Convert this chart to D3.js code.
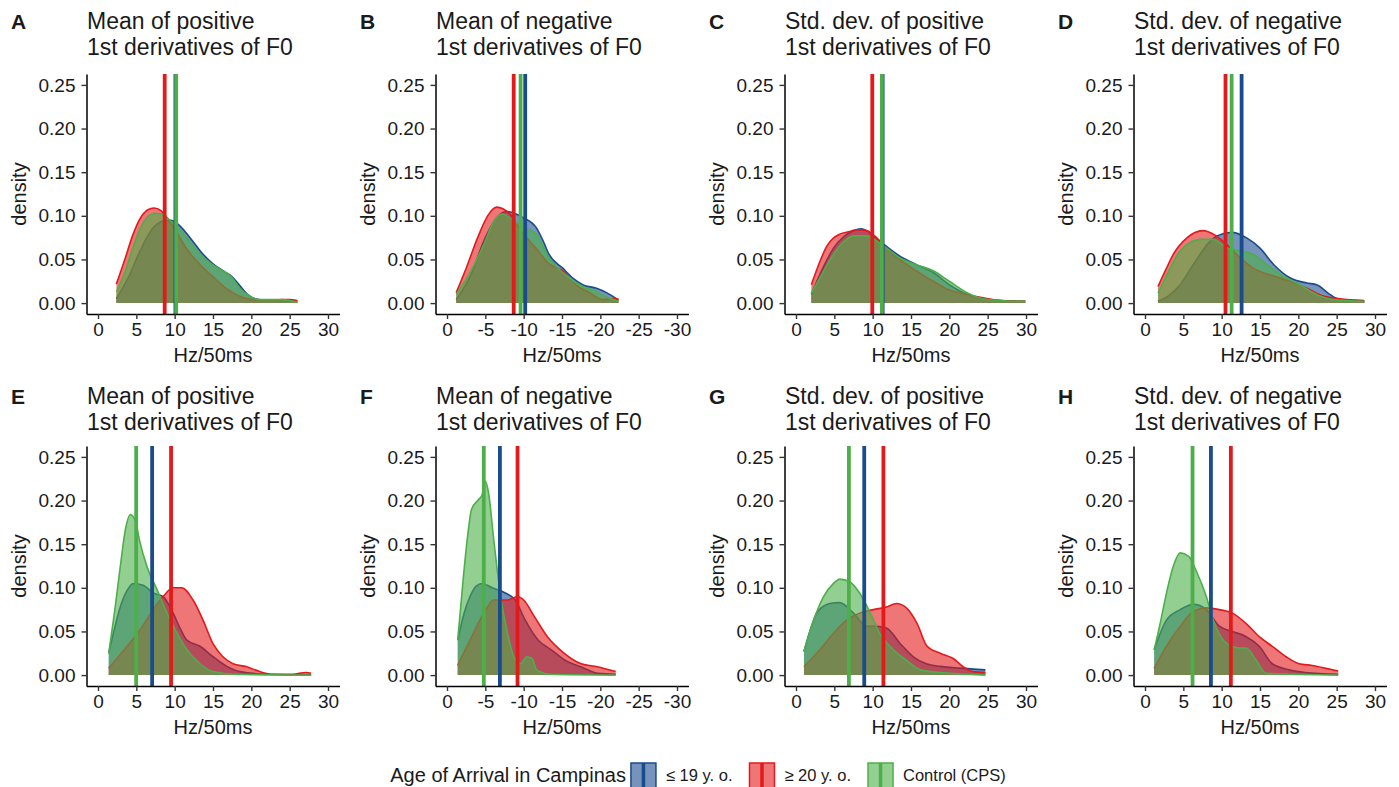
<!DOCTYPE html>
<html>
<head>
<meta charset="utf-8">
<script src="https://cdnjs.cloudflare.com/ajax/libs/d3/7.8.5/d3.min.js"></script>
<style>
  body { margin: 0; background: #fff; }
  text { font-family: "Liberation Sans", Arial, Helvetica, sans-serif; fill: #1a1a1a; }
</style>
</head>
<body>
<div class="canvas"></div>
<script>
// groups and labels
const groups = ["≤ 19 y. o.", "≥ 20 y. o.", "Control (CPS)"];
const legendTitle = "Age of Arrival in Campinas";
const panelLetters = ["A", "B", "C", "D", "E", "F", "G", "H"];
const panelTitles = [
  ["Mean of positive", "1st derivatives of F0"],
  ["Mean of negative", "1st derivatives of F0"],
  ["Std. dev. of positive", "1st derivatives of F0"],
  ["Std. dev. of negative", "1st derivatives of F0"],
  ["Mean of positive", "1st derivatives of F0"],
  ["Mean of negative", "1st derivatives of F0"],
  ["Std. dev. of positive", "1st derivatives of F0"],
  ["Std. dev. of negative", "1st derivatives of F0"]
];
const xLabel = "Hz/50ms";
const yLabel = "density";
const xTicksPos = [0, 5, 10, 15, 20, 25, 30];
const xTicksNeg = [0, -5, -10, -15, -20, -25, -30];
const yTicks = [0, 0.05, 0.1, 0.15, 0.2, 0.25];

// density curves per panel: [<=19, >=20, control], points are [x, density]
const densA = [
  [[2.4,0.005],[4,0.03],[5.5,0.06],[7,0.084],[8.5,0.094],[9.5,0.095],[10.5,0.09],[12,0.075],[13.5,0.058],[15,0.045],[16.5,0.036],[17.5,0.03],[18.5,0.02],[19.5,0.01],[21,0.004],[24,0.003],[26,0.002]],
  [[2.4,0.022],[3.5,0.05],[4.5,0.077],[5.5,0.097],[6.5,0.107],[7.3,0.109],[8.2,0.106],[9,0.098],[10,0.085],[11,0.07],[12,0.057],[13,0.047],[14,0.038],[15,0.03],[16,0.022],[17,0.015],[18,0.01],[19,0.006],[20,0.004],[22,0.003],[24,0.004],[25,0.004],[26,0.003]],
  [[2.4,0.013],[3.5,0.035],[4.5,0.062],[5.5,0.085],[6.5,0.099],[7.5,0.103],[8.5,0.101],[9.5,0.094],[10.5,0.086],[12,0.07],[13.3,0.056],[14.5,0.047],[15.5,0.041],[16.5,0.036],[17.5,0.029],[18.5,0.017],[19.8,0.008],[21,0.004],[24,0.004],[26,0.001]]
];
const densB = [
  [[-1.2,0.004],[-3,0.03],[-5,0.075],[-6.5,0.098],[-7.8,0.105],[-9,0.102],[-9.9,0.098],[-11.6,0.087],[-12.5,0.072],[-13.3,0.056],[-15.1,0.04],[-16.5,0.028],[-17.7,0.021],[-19.5,0.017],[-20.8,0.012],[-22.3,0.004]],
  [[-1.2,0.012],[-2.5,0.04],[-4,0.075],[-5.3,0.1],[-6.5,0.11],[-7.3,0.108],[-8.2,0.102],[-9.9,0.08],[-11.6,0.063],[-13.3,0.045],[-15.1,0.037],[-16.8,0.021],[-18.6,0.012],[-20.3,0.004],[-22,0.005],[-22.4,0.004]],
  [[-1.2,0.01],[-3,0.035],[-4.8,0.067],[-6,0.092],[-7.2,0.102],[-8.5,0.096],[-9.9,0.087],[-11.6,0.079],[-13.3,0.052],[-15.1,0.035],[-17.7,0.019],[-19.5,0.013],[-21,0.006],[-22.4,0.002]]
];
const densC = [
  [[2,0.01],[3.5,0.04],[4.9,0.063],[6.2,0.076],[7.5,0.083],[8.5,0.085],[9.2,0.083],[10.2,0.076],[11.2,0.069],[13.5,0.054],[15.7,0.044],[17.9,0.035],[20,0.021],[22.3,0.01],[24.4,0.005],[27,0.003],[29.9,0.002]],
  [[2,0.021],[3,0.045],[4,0.065],[5.7,0.079],[7,0.082],[7.9,0.084],[9.2,0.083],[10.5,0.075],[11.8,0.063],[13.5,0.05],[15.7,0.037],[17.9,0.025],[20,0.015],[22.3,0.01],[24.4,0.006],[26.6,0.003],[29.9,0.002]],
  [[2,0.0115],[3.5,0.035],[4.9,0.056],[6.2,0.07],[7.5,0.077],[9.2,0.077],[11.2,0.067],[13.5,0.052],[15.7,0.044],[17.9,0.037],[20,0.025],[22.3,0.012],[24.4,0.005],[26.6,0.003],[29.9,0.002]]
];
const densD = [
  [[1.7,0.002],[3,0.008],[4.6,0.021],[6,0.04],[7.2,0.056],[8.3,0.069],[9.4,0.077],[11.3,0.081],[13.2,0.075],[15,0.063],[16.8,0.044],[18.9,0.029],[21.1,0.023],[22.4,0.021],[24.1,0.01],[25.4,0.004],[28.6,0.002]],
  [[1.7,0.019],[2.7,0.038],[3.7,0.056],[5.5,0.075],[6.5,0.081],[7.6,0.083],[8.9,0.079],[10.7,0.067],[12.4,0.052],[14.1,0.04],[16.8,0.031],[18.9,0.025],[21.1,0.017],[23.3,0.008],[25.4,0.005],[28.6,0.003]],
  [[1.7,0.0115],[3,0.035],[4.6,0.06],[6,0.07],[7.2,0.073],[8.9,0.073],[10.7,0.063],[12.4,0.06],[14.1,0.056],[15.9,0.044],[17.6,0.033],[20.2,0.021],[22.8,0.008],[24.5,0.004],[28.6,0.002]]
];
const densE = [
  [[1.4,0.025],[2.2,0.055],[2.9,0.078],[3.8,0.097],[4.6,0.105],[5.9,0.103],[7.2,0.094],[8.5,0.09],[9.8,0.071],[10.8,0.052],[11.6,0.04],[13.3,0.033],[15,0.021],[16.8,0.01],[18.5,0.004],[22,0.001],[27.8,0]],
  [[1.4,0.008],[3.8,0.033],[5.5,0.052],[7.2,0.075],[8.5,0.09],[9.8,0.1],[10.9,0.1],[12.4,0.086],[13.7,0.063],[15,0.036],[16.3,0.021],[17.6,0.013],[19.4,0.0096],[21.1,0.004],[22.8,0.001],[25.4,0.001],[27.1,0.003],[27.8,0.002]],
  [[1.4,0.025],[2.2,0.075],[2.9,0.124],[3.6,0.168],[4.2,0.184],[4.9,0.176],[5.4,0.155],[6.4,0.124],[7.7,0.098],[9,0.071],[10.3,0.048],[11.6,0.029],[13.3,0.013],[15,0.004],[17.6,0.001],[27.8,0]]
];
const densF = [
  [[-1.4,0.04],[-2.2,0.07],[-3,0.09],[-3.8,0.102],[-4.6,0.105],[-5.9,0.1],[-7.6,0.094],[-8.9,0.086],[-10.2,0.063],[-11.9,0.04],[-13.6,0.029],[-15.4,0.017],[-17.6,0.009],[-19.7,0.002],[-22,0.001]],
  [[-1.4,0.011],[-3,0.04],[-4.8,0.071],[-6.1,0.086],[-7.9,0.086],[-9.2,0.09],[-10,0.086],[-11.4,0.067],[-13.1,0.044],[-15.3,0.025],[-17.5,0.013],[-19.6,0.0096],[-22,0.004]],
  [[-1.4,0.04],[-2.1,0.109],[-2.7,0.16],[-3.2,0.19],[-4.1,0.201],[-4.6,0.207],[-5,0.222],[-5.4,0.21],[-6.1,0.155],[-7,0.09],[-7.9,0.048],[-8.7,0.021],[-9.6,0.013],[-10.4,0.021],[-11.1,0.019],[-11.7,0.006],[-13.4,0.001],[-22,0]]
];
const densG = [
  [[1.04,0.027],[1.8,0.05],[2.7,0.071],[3.6,0.079],[4.4,0.082],[5.7,0.083],[7.5,0.071],[9.2,0.056],[10.5,0.056],[11.8,0.054],[13.6,0.036],[15.3,0.021],[17,0.013],[18.8,0.01],[21.4,0.008],[24.7,0.006]],
  [[1.04,0.0096],[3.1,0.029],[4.9,0.048],[6.6,0.063],[8.3,0.071],[10.1,0.075],[11.8,0.078],[13.1,0.082],[14.4,0.077],[15.8,0.059],[17.1,0.033],[18.8,0.025],[20.5,0.019],[21.8,0.0096],[23.1,0.004],[24.7,0.003]],
  [[1.04,0.027],[2.3,0.063],[3.6,0.09],[4.9,0.105],[5.7,0.11],[7,0.107],[8.3,0.094],[9.7,0.071],[10.9,0.048],[12.7,0.029],[14.4,0.017],[16.2,0.006],[18.8,0.003],[22.3,0.001],[24.7,0]]
];
const densH = [
  [[1.2,0.029],[2.8,0.063],[4.6,0.075],[6.3,0.081],[8,0.075],[9.7,0.056],[11.4,0.05],[13.2,0.044],[14.9,0.033],[16.6,0.013],[18.8,0.006],[20.9,0.003],[25.2,0.001]],
  [[1.2,0.0077],[2.8,0.033],[4.6,0.056],[6.3,0.073],[8,0.077],[9.7,0.075],[11.4,0.071],[13.2,0.059],[14.9,0.044],[16.6,0.033],[18.4,0.021],[20.1,0.013],[21.8,0.011],[23.6,0.0077],[25.2,0.0046]],
  [[1.2,0.029],[2,0.06],[2.8,0.094],[3.7,0.125],[4.6,0.14],[5.7,0.136],[6.7,0.119],[8,0.09],[8.9,0.063],[10.2,0.04],[11.3,0.033],[12.4,0.031],[13.2,0.031],[14.5,0.017],[15.8,0.002],[25.2,0]]
];

// group means (vertical lines): [<=19, >=20, control]
const meansA = [10.1, 8.7, 10.2];
const meansB = [-10.2, -8.7, -9.6];
const meansC = [11.3, 9.95, 11.2];
const meansD = [12.6, 10.5, 11.3];
const meansE = [7.06, 9.53, 4.98];
const meansF = [-6.9, -9.2, -4.8];
const meansG = [8.9, 11.4, 6.9];
const meansH = [8.6, 11.2, 6.2];

const panelDens = [densA, densB, densC, densD, densE, densF, densG, densH];
const panelMeans = [meansA, meansB, meansC, meansD, meansE, meansF, meansG, meansH];
const panelNegative = [false, true, false, false, false, true, false, false];

// styles
const colors = ["#1a4b8d", "#e31a1c", "#4daf4a"];
const fillOpacity = 0.6;

const svg = d3
  .select(".canvas")
  .append("svg")
  .attr("width", 1399)
  .attr("height", 787)
  .style("background", "#fff");

const colStep = 349;
const rowShift = [0, 372];
const titleShift = [0, 375];

panelDens.forEach((dens, i) => {
  const col = i % 4;
  const row = Math.floor(i / 4);
  const left = col * colStep;
  const top = 74 + rowShift[row];
  const bottom = 314 + rowShift[row];
  const neg = panelNegative[i];

  const graph = svg.append("g").attr("class", "panel");

  // scales
  const x = d3
    .scaleLinear()
    .domain(neg ? [1.5, -31.5] : [-1.5, 31.5])
    .range([left + 86.5, left + 339.5]);
  const y = d3.scaleLinear().domain([-0.0125, 0.2625]).range([bottom, top]);

  // area and outline generators
  const area = d3
    .area()
    .curve(d3.curveMonotoneX)
    .x((d) => x(d[0]))
    .y0(y(0))
    .y1((d) => y(d[1]));
  const line = d3
    .line()
    .curve(d3.curveMonotoneX)
    .x((d) => x(d[0]))
    .y((d) => y(d[1]));

  dens.forEach((pts, g) => {
    graph
      .append("path")
      .datum(pts)
      .attr("d", area)
      .attr("fill", colors[g])
      .attr("fill-opacity", fillOpacity);
    graph
      .append("path")
      .datum(pts)
      .attr("d", line)
      .attr("fill", "none")
      .attr("stroke", colors[g])
      .attr("stroke-width", 1.6);
  });

  // mean lines
  graph
    .selectAll("line.mean")
    .data(panelMeans[i])
    .enter()
    .append("line")
    .attr("class", "mean")
    .attr("x1", (d) => x(d))
    .attr("x2", (d) => x(d))
    .attr("y1", top)
    .attr("y2", bottom)
    .attr("stroke", (d, g) => colors[g])
    .attr("stroke-width", 3.8);

  // axes
  const xAxis = d3
    .axisBottom(x)
    .tickValues(neg ? xTicksNeg : xTicksPos)
    .tickFormat((d) => String(d))
    .tickSize(5)
    .tickSizeOuter(0)
    .tickPadding(4);
  const yAxis = d3
    .axisLeft(y)
    .tickValues(yTicks)
    .tickFormat(d3.format(".2f"))
    .tickSize(5)
    .tickSizeOuter(0)
    .tickPadding(6);

  const xAxisGroup = graph
    .append("g")
    .attr("transform", `translate(0,${bottom})`)
    .call(xAxis);
  const yAxisGroup = graph
    .append("g")
    .attr("transform", `translate(${left + 86.5},0)`)
    .call(yAxis);

  [xAxisGroup, yAxisGroup].forEach((ax) => {
    ax.attr("font-family", null).attr("font-size", null);
    ax.select(".domain").attr("stroke", "#000").attr("stroke-width", 1.5);
    ax.selectAll(".tick line").attr("stroke", "#333").attr("stroke-width", 1.4);
    ax.selectAll(".tick text").attr("font-size", 19).attr("fill", "#1a1a1a");
  });

  // axis titles
  graph
    .append("text")
    .attr("x", left + 213)
    .attr("y", 362 + rowShift[row])
    .attr("text-anchor", "middle")
    .attr("font-size", 20)
    .text(xLabel);
  graph
    .append("text")
    .attr("transform", `translate(${left + 26},${(top + bottom) / 2}) rotate(-90)`)
    .attr("text-anchor", "middle")
    .attr("font-size", 20)
    .text(yLabel);

  // panel title and tag
  const ty = 29 + titleShift[row];
  panelTitles[i].forEach((t, k) => {
    graph
      .append("text")
      .attr("x", left + 87)
      .attr("y", ty + k * 26)
      .attr("font-size", 23)
      .text(t);
  });
  graph
    .append("text")
    .attr("x", left + 11)
    .attr("y", ty)
    .attr("font-size", 21)
    .attr("font-weight", "bold")
    .text(panelLetters[i]);
});

// legend
const legend = svg.append("g").attr("class", "legend");
const legendTitleText = legend
  .append("text")
  .attr("x", 0)
  .attr("y", 782)
  .attr("font-size", 20)
  .text(legendTitle);
let cursor = legendTitleText.node().getComputedTextLength() + 5;
groups.forEach((name, g) => {
  const key = legend.append("g").attr("transform", `translate(${cursor},763)`);
  key
    .append("rect")
    .attr("width", 25)
    .attr("height", 25)
    .attr("fill", colors[g])
    .attr("fill-opacity", fillOpacity)
    .attr("stroke", colors[g])
    .attr("stroke-width", 1.5);
  key
    .append("line")
    .attr("x1", 12.5)
    .attr("x2", 12.5)
    .attr("y1", 0)
    .attr("y2", 25)
    .attr("stroke", colors[g])
    .attr("stroke-width", 3.5);
  cursor += 25 + 10;
  const label = legend
    .append("text")
    .attr("x", cursor)
    .attr("y", 781)
    .attr("font-size", 16.5)
    .text(name);
  cursor += label.node().getComputedTextLength() + 17;
});
cursor -= 17;
legend.attr("transform", `translate(${698 - cursor / 2},0)`);
</script>
</body>
</html>
